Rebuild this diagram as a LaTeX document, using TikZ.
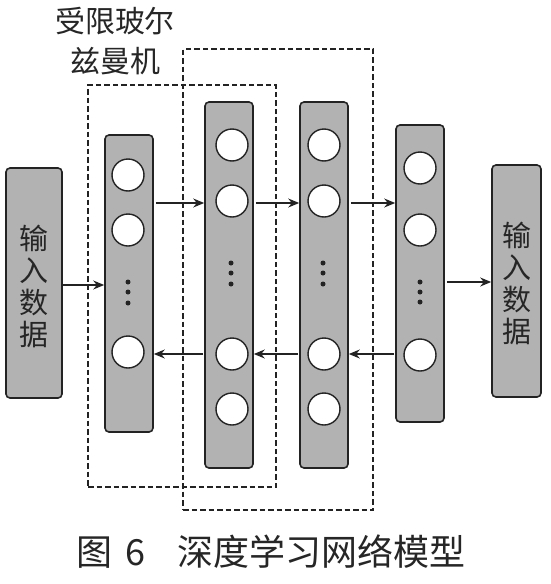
\documentclass[tikz,border=0pt]{standalone}
\usepackage{fontspec}
\newfontfamily\cjk{Noto Sans CJK SC}
\usetikzlibrary{arrows.meta}
\definecolor{layergray}{RGB}{178,178,178}
\definecolor{edge}{RGB}{35,35,35}
\begin{document}
\begin{tikzpicture}[x=1pt,y=-1pt,
  layerbox/.style={draw=edge, line width=1.6pt, fill=layergray, rounded corners=4pt, inner sep=0pt},
  unit/.style={circle, draw=edge, line width=1.4pt, fill=white, minimum size=32pt, inner sep=0pt},
  dotmark/.style={circle, fill=edge, minimum size=5pt, inner sep=0pt},
  rbm/.style={draw=edge, line width=1.5pt, dash pattern=on 5.5pt off 3pt, inner sep=0pt},
  arr/.style={draw=edge, line width=1.3pt, -{Stealth[length=11pt,width=9pt]}},
  cjktext/.style={font=\cjk\fontsize{29}{32}\selectfont, text=black!85, align=center, inner sep=0pt}
]
\useasboundingbox (0,0) rectangle (551,584);
% dashed RBM boxes
\node[rbm, minimum width=188pt, minimum height=402pt] (rbmA) at (182,286) {};
\node[rbm, minimum width=190pt, minimum height=461pt] (rbmB) at (278,279.5) {};
% layers
\node[layerbox, minimum width=56pt, minimum height=230pt] (in) at (34,283) {};
\node[layerbox, minimum width=48pt, minimum height=297pt] (l1) at (129,283.5) {};
\node[layerbox, minimum width=48pt, minimum height=366pt] (l2) at (229,285) {};
\node[layerbox, minimum width=48pt, minimum height=366pt] (l3) at (324,285) {};
\node[layerbox, minimum width=48pt, minimum height=297pt] (l4) at (420,273.5) {};
\node[layerbox, minimum width=49pt, minimum height=232pt] (out) at (516.5,281) {};
% texts in boxes
\node[cjktext] (intext) at (34,286) {输\\入\\数\\据};
\node[cjktext] (outtext) at (516.5,283) {输\\入\\数\\据};
% units layer 1
\node[unit] (l1a) at (128,175) {};
\node[unit] (l1b) at (128,230) {};
\node[unit] (l1d) at (128,352) {};
\node[dotmark] (l1p) at (128,282) {};
\node[dotmark] (l1q) at (128,292) {};
\node[dotmark] (l1r) at (128,303) {};
% units layer 2
\node[unit] (l2a) at (232,145) {};
\node[unit] (l2b) at (232,201) {};
\node[unit] (l2d) at (232,354) {};
\node[unit] (l2e) at (232,409) {};
\node[dotmark] (l2p) at (231,263) {};
\node[dotmark] (l2q) at (231,273) {};
\node[dotmark] (l2r) at (231,284) {};
% units layer 3
\node[unit] (l3a) at (324,145) {};
\node[unit] (l3b) at (324,201) {};
\node[unit] (l3d) at (324,354) {};
\node[unit] (l3e) at (324,409) {};
\node[dotmark] (l3p) at (323,263) {};
\node[dotmark] (l3q) at (323,273) {};
\node[dotmark] (l3r) at (323,284) {};
% units layer 4
\node[unit] (l4a) at (420,168) {};
\node[unit] (l4b) at (420,230) {};
\node[unit] (l4d) at (420,355) {};
\node[dotmark] (l4p) at (420,282) {};
\node[dotmark] (l4q) at (420,292) {};
\node[dotmark] (l4r) at (420,302) {};
% coordinates for arrow rows
\coordinate (fwd) at (0,203);
\coordinate (bwd) at (0,354);
\coordinate (mid1) at (0,285);
\coordinate (mid2) at (0,282);
% forward arrows
\draw[arr] (in.east |- mid1) -- (l1.west |- mid1);
\draw[arr] ([xshift=2pt]l1.east |- fwd) -- (l2.west |- fwd);
\draw[arr] ([xshift=2pt]l2.east |- fwd) -- (l3.west |- fwd);
\draw[arr] ([xshift=2pt]l3.east |- fwd) -- (l4.west |- fwd);
\draw[arr] ([xshift=2pt]l4.east |- mid2) -- (out.west |- mid2);
% backward arrows
\draw[arr] ([xshift=-1pt]l4.west |- bwd) -- (l3.east |- bwd);
\draw[arr] ([xshift=-1pt]l3.west |- bwd) -- (l2.east |- bwd);
\draw[arr] ([xshift=-1pt]l2.west |- bwd) -- (l1.east |- bwd);
% labels
\node[font=\cjk\fontsize{30}{40}\selectfont, text=black!85, align=center, inner sep=0pt] (rbmlabel) at (115,41) {受限玻尔\\兹曼机};
\node[font=\cjk\fontsize{36}{40}\selectfont, text=black!85, inner sep=0pt] (caption) at (271,552) {图\hspace{0.35em}6\hspace{0.9em}深度学习网络模型};
\end{tikzpicture}
\end{document}
